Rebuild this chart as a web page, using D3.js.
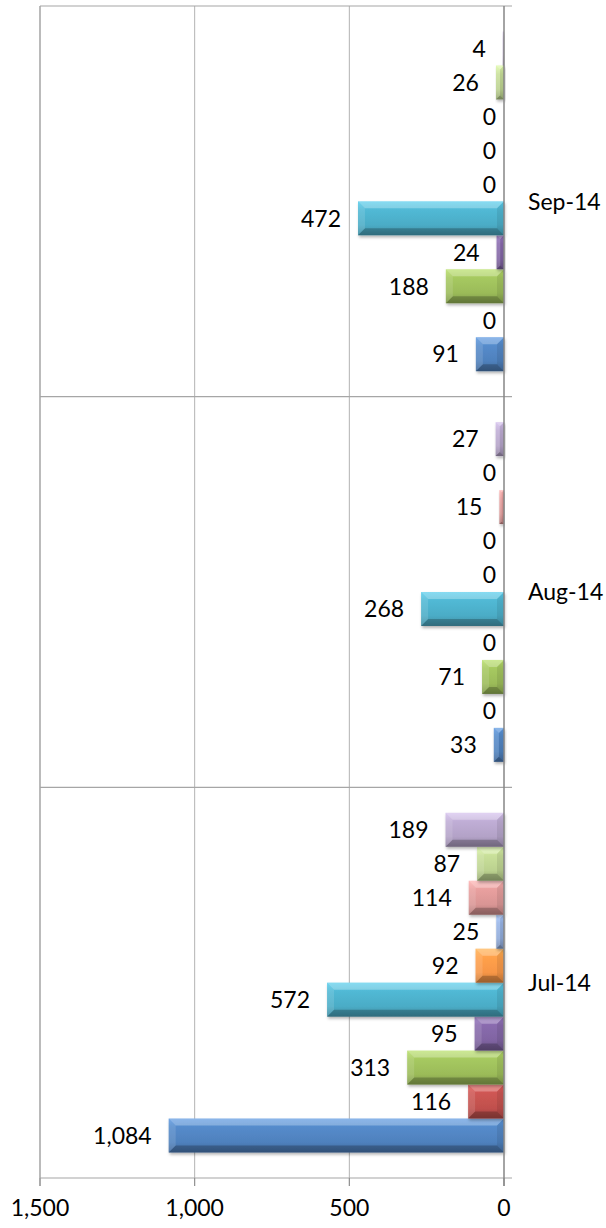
<!DOCTYPE html>
<html>
<head>
<meta charset="utf-8">
<script src="https://cdn.jsdelivr.net/npm/d3@7"></script>
<style>
body { margin: 0; background: #fff; }
text { font-family: Lato, "Open Sans", sans-serif; fill: #000; }
</style>
</head>
<body>
<script>
// categories top to bottom as drawn
const categories = ["Sep-14", "Aug-14", "Jul-14"];
// series s1..s10, values in order Jul-14, Aug-14, Sep-14
const months = ["Jul-14", "Aug-14", "Sep-14"];
const s1 = [1084, 33, 91];
const s2 = [116, 0, 0];
const s3 = [313, 71, 188];
const s4 = [95, 0, 24];
const s5 = [572, 268, 472];
const s6 = [92, 0, 0];
const s7 = [25, 0, 0];
const s8 = [114, 15, 0];
const s9 = [87, 0, 26];
const s10 = [189, 27, 4];
const seriesNames = ["s1", "s2", "s3", "s4", "s5", "s6", "s7", "s8", "s9", "s10"];
const seriesValues = [s1, s2, s3, s4, s5, s6, s7, s8, s9, s10];
const colors = ["#4F81BD", "#C0504D", "#9BBB59", "#8064A2", "#4BACC6",
                "#F79646", "#8EA9D8", "#D99594", "#BBD18F", "#B3A2C7"];
const xTicks = [0, 500, 1000, 1500];

const W = 606, H = 1228;
const plotTop = 6, plotBottom = 1178, plotLeft = 40, zeroX = 504;

const svg = d3.select("body").append("svg")
  .attr("width", W).attr("height", H);

const x = d3.scaleLinear().domain([0, 1500]).range([zeroX, plotLeft]);
const y = d3.scaleBand().domain(categories).range([plotTop, plotBottom]);
// s1 at the bottom of each group, gap width 150%
const yy = d3.scaleBand().domain(seriesNames.slice().reverse())
  .range([0, y.bandwidth()]).paddingInner(0).paddingOuter(0.75);

const defs = svg.append("defs");
colors.forEach((c, i) => {
  const g = defs.append("linearGradient").attr("id", "g" + i)
    .attr("x1", 0).attr("y1", 0).attr("x2", 0).attr("y2", 1);
  g.append("stop").attr("offset", 0).attr("stop-color", d3.color(c).brighter(0.5));
  g.append("stop").attr("offset", 0.25).attr("stop-color", d3.color(c).brighter(0.2));
  g.append("stop").attr("offset", 0.7).attr("stop-color", c);
  g.append("stop").attr("offset", 1).attr("stop-color", d3.color(c).darker(0.6));
});
const f = defs.append("filter").attr("id", "sh")
  .attr("x", "-10%").attr("y", "-20%").attr("width", "130%").attr("height", "160%");
f.append("feDropShadow").attr("dx", 1).attr("dy", 2).attr("stdDeviation", 1.5)
  .attr("flood-color", "#000").attr("flood-opacity", 0.3);

// vertical gridlines
svg.selectAll(".vgrid").data(xTicks.filter(d => d > 0)).enter()
  .append("line")
  .attr("x1", d => x(d)).attr("x2", d => x(d))
  .attr("y1", plotTop).attr("y2", plotBottom + 8)
  .attr("stroke", "#B3B3B3").attr("stroke-width", 1);

// horizontal category lines (top, separators, axis)
const hLines = categories.map(c => y(c)).concat([plotBottom]);
svg.selectAll(".hgrid").data(hLines).enter()
  .append("line")
  .attr("x1", plotLeft).attr("x2", zeroX + 8)
  .attr("y1", d => d).attr("y2", d => d)
  .attr("stroke", "#A6A6A6").attr("stroke-width", 1.2);

// tick marks on value axis
svg.selectAll(".tick").data(xTicks).enter()
  .append("line")
  .attr("x1", d => x(d)).attr("x2", d => x(d))
  .attr("y1", plotBottom).attr("y2", plotBottom + 8)
  .attr("stroke", "#8C8C8C");

// bars
const rows = [];
seriesNames.forEach((s, si) => {
  months.forEach((m, mi) => {
    rows.push({ s: s, si: si, cat: m, v: seriesValues[si][mi] });
  });
});

const bars = svg.selectAll(".bar").data(rows.filter(d => d.v > 0)).enter()
  .append("g").attr("class", "bar");

bars.append("rect")
  .attr("x", d => x(d.v))
  .attr("y", d => y(d.cat) + yy(d.s))
  .attr("width", d => x(0) - x(d.v))
  .attr("height", yy.bandwidth())
  .attr("fill", d => "url(#g" + d.si + ")")
  .attr("filter", "url(#sh)");

// angled bevel faces
function bevel(d, side) {
  const x0 = x(d.v), x1 = x(0);
  const y0 = y(d.cat) + yy(d.s), y1 = y0 + yy.bandwidth();
  const b = Math.min(7, (x1 - x0) / 2);
  const pts = {
    top: [[x0, y0], [x1, y0], [x1 - b, y0 + b], [x0 + b, y0 + b]],
    bottom: [[x0, y1], [x1, y1], [x1 - b, y1 - b], [x0 + b, y1 - b]],
    left: [[x0, y0], [x0 + b, y0 + b], [x0 + b, y1 - b], [x0, y1]],
    right: [[x1, y0], [x1 - b, y0 + b], [x1 - b, y1 - b], [x1, y1]]
  }[side];
  return "M" + pts.map(p => p.join(",")).join("L") + "Z";
}
bars.append("path").attr("d", d => bevel(d, "top")).attr("fill", "#fff").attr("opacity", 0.28);
bars.append("path").attr("d", d => bevel(d, "left")).attr("fill", "#fff").attr("opacity", 0.12);
bars.append("path").attr("d", d => bevel(d, "bottom")).attr("fill", "#000").attr("opacity", 0.22);
bars.append("path").attr("d", d => bevel(d, "right")).attr("fill", "#000").attr("opacity", 0.08);

// zero (category) axis line
svg.append("line")
  .attr("x1", zeroX).attr("x2", zeroX)
  .attr("y1", plotTop).attr("y2", plotBottom + 8)
  .attr("stroke", "#868686").attr("stroke-width", 1.5);
svg.append("line")
  .attr("x1", plotLeft).attr("x2", plotLeft)
  .attr("y1", plotTop).attr("y2", plotBottom + 8)
  .attr("stroke", "#A6A6A6").attr("stroke-width", 1.2);

// data labels
const fmt = d3.format(",");
svg.selectAll(".lbl").data(rows).enter()
  .append("text")
  .attr("x", d => d.v > 0 ? x(d.v) - 17 : x(0) - 8)
  .attr("y", d => y(d.cat) + yy(d.s) + yy.bandwidth() / 2)
  .attr("dy", "0.36em")
  .attr("text-anchor", "end")
  .style("font-size", "23px")
  .text(d => fmt(d.v));

// category labels
svg.selectAll(".cat").data(categories).enter()
  .append("text")
  .attr("x", 528)
  .attr("y", d => y(d) + y.bandwidth() / 2)
  .attr("dy", "0.36em")
  .style("font-size", "23px")
  .text(d => d);

// value axis labels
svg.selectAll(".xl").data(xTicks).enter()
  .append("text")
  .attr("x", d => x(d))
  .attr("y", 1208)
  .attr("dy", "0.36em")
  .attr("text-anchor", "middle")
  .style("font-size", "23px")
  .text(d => fmt(d));
</script>
</body>
</html>
